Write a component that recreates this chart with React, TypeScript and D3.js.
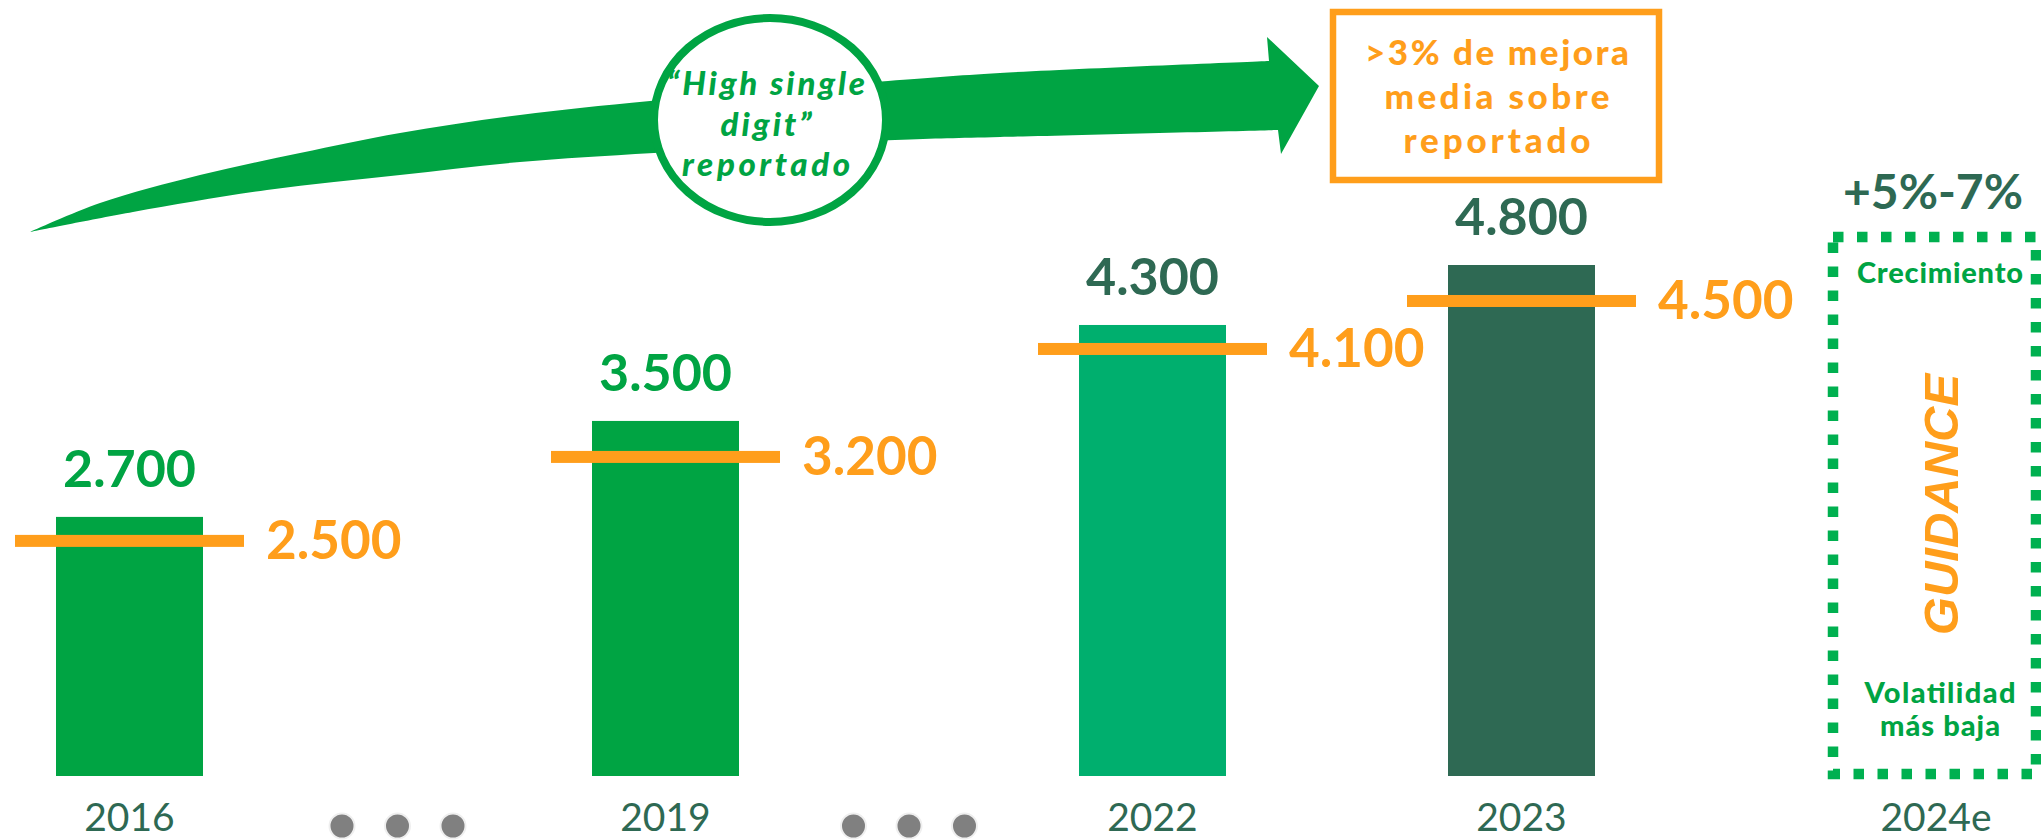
import React, { useEffect, useRef } from 'react';
import * as d3 from 'd3';

// underlying vs reported figures, per year
const years = ["2016", "2019", "2022", "2023"];
const underlying = [2700, 3500, 4300, 4800];
const reported = [2500, 3200, 4100, 4500];
const outlookYear = "2024e";
const outlookGrowth = "+5%-7%";

// annotation texts
const ellipseLines = ["“High single", "digit”", "reportado"];
const boxLines = [">3% de mejora", "media sobre", "reportado"];
const guidanceTop = ["Crecimiento"];
const guidanceWord = "GUIDANCE";
const guidanceBottom = ["Volatilidad", "más baja"];

const W = 2041;
const H = 840;
const GREEN = "#00A443";
const TEAL = "#00AF6E";
const DARK = "#2E6953";
const ORANGE = "#FF9E1B";
const DOTTED = "#00B050";
const GREY = "#808080";
const FONT = "Lato, 'Open Sans', sans-serif";

// line widths of the annotation texts (the original font runs wider)
const ellipseWidths = [198, 91, 168];
const boxWidths = [264, 225, 187];
const guidanceTopWidths = [166];
const guidanceBottomWidths = [151, 120];

// hand-drawn growth arrow outline (annotation shape)
const arrowTop: [number, number][] = [[30, 232], [100, 203], [200, 175], [300, 153], [400, 133], [520, 115], [650, 101], [888, 81], [1000, 73], [1269, 61]];
const arrowHead: [number, number][] = [[1267, 37], [1319, 86], [1281, 154]];
const arrowBottom: [number, number][] = [[1278, 130], [1000, 137], [895, 140], [654, 153], [520, 162], [400, 175], [267, 190], [133, 212], [30, 232]];

const App: React.FC = () => {
  const svgRef = useRef<SVGSVGElement>(null);

  useEffect(() => {
    if (!svgRef.current) return;
    const svg = d3.select(svgRef.current);
    svg.selectAll("*").remove();

    const categories = [...years, outlookYear];
    const x = d3.scaleOrdinal<string, number>()
      .domain(categories)
      .range([129.5, 665.5, 1152.5, 1521.5, 1936]);
    const y = d3.scaleLinear().domain([540, 4800]).range([776, 265]);
    const baseY = y(540);
    const barW = 147;
    const markerW = 229;

    const fmt = d3.formatLocale({ decimal: ",", thousands: ".", grouping: [3], currency: ["", " €"] }).format(",");
    const barFill = [GREEN, GREEN, TEAL, DARK];
    const labelFill = [GREEN, GREEN, DARK, DARK];

    // arrow
    const curve = d3.line().curve(d3.curveCatmullRom.alpha(0.5));
    const d = (curve(arrowTop) || "") + "L" + arrowHead.map(p => p.join(",")).join("L")
      + (curve(arrowBottom) || "").replace(/^M/, "L") + "Z";
    svg.append("path").attr("d", d).attr("fill", GREEN);

    // ellipse badge
    svg.append("ellipse")
      .attr("cx", 770).attr("cy", 120).attr("rx", 116).attr("ry", 102)
      .attr("fill", "#fff").attr("stroke", GREEN).attr("stroke-width", 8);
    svg.append("g").selectAll("text").data(ellipseLines).enter().append("text")
      .attr("x", 766).attr("y", (_, i) => 95 + i * 40.5)
      .attr("text-anchor", "middle")
      .attr("font-family", FONT).attr("font-weight", 900).attr("font-style", "italic")
      .attr("font-size", 33).attr("fill", GREEN)
      .attr("textLength", (_, i) => ellipseWidths[i]).attr("lengthAdjust", "spacing")
      .text(t => t);

    // orange box
    svg.append("rect")
      .attr("x", 1333).attr("y", 12).attr("width", 326).attr("height", 168)
      .attr("fill", "#fff").attr("stroke", ORANGE).attr("stroke-width", 6.5);
    svg.append("g").selectAll("text").data(boxLines).enter().append("text")
      .attr("x", 1497).attr("y", (_, i) => 65 + i * 44)
      .attr("text-anchor", "middle")
      .attr("font-family", FONT).attr("font-weight", 900)
      .attr("font-size", 35).attr("fill", ORANGE)
      .attr("textLength", (_, i) => boxWidths[i]).attr("lengthAdjust", "spacing")
      .text(t => t);

    // bars
    svg.append("g").selectAll("rect").data(underlying).enter().append("rect")
      .attr("x", (_, i) => x(years[i]) - barW / 2)
      .attr("y", v => y(v))
      .attr("width", barW)
      .attr("height", v => baseY - y(v))
      .attr("fill", (_, i) => barFill[i]);

    // bar value labels
    svg.append("g").selectAll("text").data(underlying).enter().append("text")
      .attr("x", (_, i) => x(years[i]))
      .attr("y", v => y(v) - 30)
      .attr("text-anchor", "middle")
      .attr("font-family", FONT).attr("font-weight", 700).attr("font-size", 52)
      .attr("fill", (_, i) => labelFill[i])
      .text(v => fmt(v));

    // reported markers
    svg.append("g").selectAll("rect").data(reported).enter().append("rect")
      .attr("x", (_, i) => x(years[i]) - markerW / 2)
      .attr("y", v => y(v) - 6)
      .attr("width", markerW)
      .attr("height", 12)
      .attr("fill", ORANGE);
    svg.append("g").selectAll("text").data(reported).enter().append("text")
      .attr("x", (_, i) => x(years[i]) + markerW / 2 + 22)
      .attr("y", v => y(v) + 18)
      .attr("font-family", FONT).attr("font-weight", 700).attr("font-size", 53)
      .attr("fill", ORANGE)
      .text(v => fmt(v));

    // ellipsis dots between non-consecutive years
    const gaps = d3.pairs(years).filter(([a, b]) => +b - +a > 1);
    gaps.forEach(([a, b]) => {
      const mid = (x(a) + x(b)) / 2;
      svg.append("g").selectAll("circle").data([-1, 0, 1]).enter().append("circle")
        .attr("cx", k => mid + k * 55.5).attr("cy", 826).attr("r", 12.5)
        .attr("fill", GREY).attr("stroke", "#EFEFEF").attr("stroke-width", 2);
    });

    // category labels
    svg.append("g").selectAll("text").data(categories).enter().append("text")
      .attr("x", c => x(c))
      .attr("y", 831)
      .attr("text-anchor", "middle")
      .attr("font-family", FONT).attr("font-weight", 400).attr("font-size", 39)
      .attr("fill", DARK)
      .text(c => c);

    // guidance box
    const gx = x(outlookYear);
    svg.append("rect")
      .attr("x", 1833).attr("y", 237).attr("width", 203).attr("height", 537)
      .attr("fill", "none").attr("stroke", DOTTED).attr("stroke-width", 10.5)
      .attr("stroke-dasharray", "10.5 13.5");
    svg.append("text")
      .attr("x", gx - 3).attr("y", 208.5)
      .attr("text-anchor", "middle")
      .attr("font-family", FONT).attr("font-weight", 700).attr("font-size", 48)
      .attr("fill", DARK)
      .attr("textLength", 180).attr("lengthAdjust", "spacing")
      .text(outlookGrowth);
    svg.append("g").selectAll("text").data(guidanceTop).enter().append("text")
      .attr("x", gx + 4).attr("y", 283)
      .attr("text-anchor", "middle")
      .attr("font-family", FONT).attr("font-weight", 900).attr("font-size", 29)
      .attr("fill", GREEN)
      .attr("textLength", (_, i) => guidanceTopWidths[i]).attr("lengthAdjust", "spacing")
      .text(t => t);
    svg.append("text")
      .attr("transform", `translate(${gx + 22},504.5) rotate(-90)`)
      .attr("text-anchor", "middle")
      .attr("font-family", "'Liberation Sans', Arial, sans-serif")
      .attr("font-weight", 700).attr("font-style", "italic").attr("font-size", 49)
      .attr("fill", ORANGE)
      .text(guidanceWord);
    svg.append("g").selectAll("text").data(guidanceBottom).enter().append("text")
      .attr("x", gx + 4).attr("y", (_, i) => 703 + i * 33)
      .attr("text-anchor", "middle")
      .attr("font-family", FONT).attr("font-weight", 900).attr("font-size", 29)
      .attr("fill", GREEN)
      .attr("textLength", (_, i) => guidanceBottomWidths[i]).attr("lengthAdjust", "spacing")
      .text(t => t);
  }, []);

  return (
    <svg ref={svgRef} width={W} height={H}
      style={{ position: 'absolute', left: 0, top: 0, background: '#fff' }} />
  );
};

export default App;
